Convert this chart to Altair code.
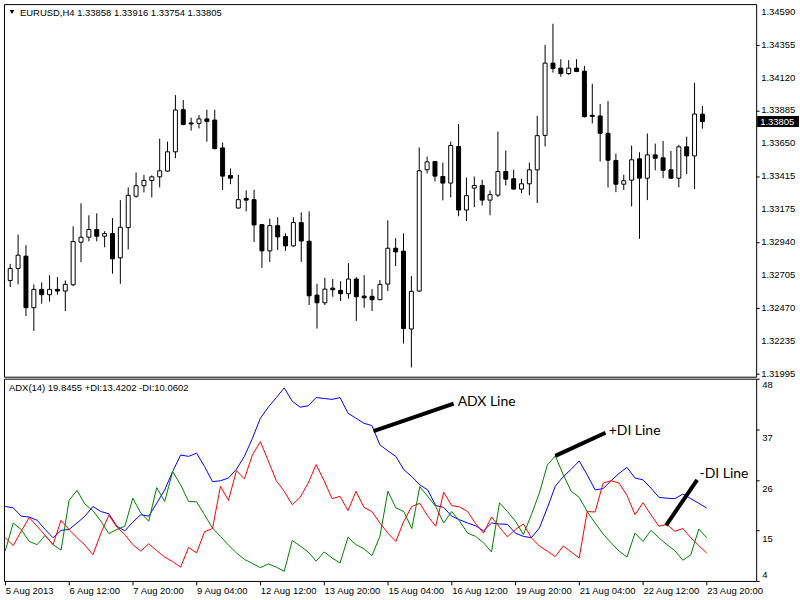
import altair as alt
import pandas as pd

# ---------------- data ----------------
opens = [1.32666,1.32752,1.32840,1.32471,1.32602,1.32564,1.32602,1.32590,1.32635,1.32940,
         1.32976,1.33031,1.32983,1.33002,1.32828,1.33045,1.33270,1.33345,1.33383,1.33409,
         1.33450,1.33588,1.33890,1.33795,1.33792,1.33824,1.33816,1.33616,1.33419,1.33185,
         1.33254,1.33245,1.33066,1.32878,1.33059,1.32981,1.32914,1.33081,1.32947,1.32561,
         1.32506,1.32611,1.32595,1.32571,1.32676,1.32554,1.32552,1.32528,1.32640,1.32897,
         1.32876,1.32318,1.32590,1.33460,1.33519,1.33411,1.33364,1.33626,1.33171,1.33328,
         1.33347,1.33242,1.33278,1.33447,1.33395,1.33321,1.33359,1.33459,1.33706,1.34224,
         1.34188,1.34149,1.34188,1.34166,1.33850,1.33845,1.33721,1.33526,1.33356,1.33385,
         1.33538,1.33399,1.33566,1.33545,1.33459,1.33399,1.33624,1.33559,1.33858]
highs = [1.32785,1.32995,1.32919,1.32638,1.32652,1.32704,1.32690,1.32666,1.33054,1.33219,
         1.33133,1.33147,1.33019,1.33114,1.33242,1.33333,1.33440,1.33424,1.33419,1.33683,
         1.33661,1.33995,1.33959,1.33833,1.33852,1.33890,1.33890,1.33654,1.33469,1.33424,
         1.33311,1.33316,1.33070,1.33109,1.33119,1.33004,1.33119,1.33154,1.33161,1.32642,
         1.32685,1.32676,1.32661,1.32790,1.32690,1.32704,1.32604,1.32669,1.33097,1.32969,
         1.33004,1.32697,1.33619,1.33554,1.33522,1.33511,1.33661,1.33788,1.33404,1.33411,
         1.33388,1.33311,1.33733,1.33597,1.33459,1.33395,1.33511,1.33847,1.34354,1.34506,
         1.34252,1.34245,1.34252,1.34204,1.34076,1.33931,1.33952,1.33576,1.33424,1.33633,
         1.33585,1.33719,1.33647,1.33666,1.33595,1.33638,1.33697,1.34083,1.33916]
lows = [1.32619,1.32638,1.32411,1.32304,1.32499,1.32514,1.32564,1.32447,1.32626,1.32797,
        1.32947,1.32947,1.32904,1.32714,1.32642,1.32888,1.33260,1.33297,1.33261,1.33333,
        1.33445,1.33542,1.33778,1.33740,1.33756,1.33661,1.33606,1.33314,1.33356,1.33181,
        1.33161,1.32942,1.32756,1.32799,1.32885,1.32878,1.32907,1.32799,1.32490,1.32321,
        1.32490,1.32549,1.32519,1.32535,1.32376,1.32471,1.32447,1.32525,1.32590,1.32769,
        1.32214,1.32042,1.32583,1.33433,1.33376,1.33240,1.33261,1.33126,1.33092,1.33192,
        1.33204,1.33133,1.33264,1.33347,1.33318,1.33292,1.33276,1.33221,1.33626,1.34156,
        1.34126,1.34140,1.34159,1.33835,1.33792,1.33519,1.33333,1.33299,1.33314,1.33197,
        1.32964,1.33242,1.33456,1.33399,1.33395,1.33333,1.33428,1.33321,1.33754]
closes = [1.32752,1.32847,1.32471,1.32602,1.32564,1.32602,1.32590,1.32638,1.32945,1.32976,
          1.33031,1.32983,1.33002,1.32821,1.33047,1.33276,1.33345,1.33383,1.33409,1.33452,
          1.33588,1.33888,1.33785,1.33788,1.33824,1.33806,1.33611,1.33414,1.33399,1.33245,
          1.33242,1.33064,1.32878,1.33059,1.32978,1.32914,1.33081,1.32949,1.32556,1.32506,
          1.32604,1.32599,1.32571,1.32676,1.32549,1.32542,1.32528,1.32638,1.32897,1.32871,
          1.32321,1.32588,1.33452,1.33516,1.33414,1.33364,1.33633,1.33171,1.33274,1.33347,
          1.33242,1.33281,1.33447,1.33392,1.33321,1.33359,1.33459,1.33704,1.34224,1.34185,
          1.34149,1.34188,1.34164,1.33840,1.33842,1.33721,1.33528,1.33356,1.33381,1.33531,
          1.33399,1.33566,1.33542,1.33456,1.33399,1.33624,1.33559,1.33859,1.33805]

adx = [20.2,19.9,18.1,17.9,17.2,15.2,13.4,15.0,15.2,16.6,18.1,20.2,19.1,18.6,15.9,14.9,16.8,18.4,18.1,20.9,
       23.8,27.8,31.4,31.1,31.8,28.9,25.6,25.8,26.4,28.3,31.1,35.0,39.4,41.8,43.9,46.0,43.1,41.8,42.1,43.9,
       43.7,43.5,43.9,40.5,39.4,38.3,37.8,33.6,32.3,31.1,28.2,26.7,24.9,23.8,20.4,20.0,18.1,17.3,16.6,16.0,
       14.9,16.6,16.4,16.3,14.4,13.7,13.4,15.5,19.9,24.6,26.7,28.3,30.1,27.1,23.8,24.1,25.8,27.4,28.7,26.4,
       26.0,24.2,22.2,22.0,21.9,22.9,21.9,20.9,19.85]
plus_di = [10.5,16.6,15.2,12.6,11.9,13.9,11.9,10.7,21.5,23.7,20.7,19.3,17.0,14.3,15.2,15.9,22.0,18.8,17.0,24.3,
           21.3,27.8,24.9,21.3,21.2,18.4,15.5,13.7,11.8,10.1,8.7,7.8,6.9,7.7,7.0,6.1,12.8,11.6,10.3,8.3,
           10.3,9.0,7.9,13.5,11.9,11.0,9.5,13.7,23.5,19.9,19.1,15.4,24.5,22.4,20.2,16.6,19.1,17.0,14.4,13.7,
           12.3,10.3,21.0,19.1,17.0,14.1,18.4,23.1,29.2,31.2,27.1,23.5,22.2,19.1,16.6,14.2,12.3,10.5,9.2,14.4,
           12.6,15.0,13.4,11.9,10.6,8.5,9.7,15.3,13.42]
minus_di = [13.4,11.7,14.8,17.8,15.9,13.9,11.9,17.2,15.2,13.4,11.8,9.7,14.4,18.3,15.7,14.1,11.9,10.5,12.1,10.6,
            9.2,8.2,7.0,11.3,10.1,14.7,15.4,24.6,21.5,28.0,26.2,31.4,34.3,30.1,25.8,23.5,20.6,22.2,25.3,29.3,
            25.8,21.9,22.4,19.3,23.5,20.0,19.1,16.6,14.4,12.6,17.0,20.2,20.9,18.1,15.9,23.3,20.4,20.1,19.1,16.5,
            14.4,17.9,15.7,13.6,15.2,16.4,13.4,11.6,10.5,9.3,11.6,10.3,9.0,19.1,19.0,25.3,25.8,25.3,22.6,18.4,
            21.0,18.4,15.9,16.3,14.8,15.4,13.4,11.7,10.06]

xlabel_pos = [0, 8, 16, 24, 32, 40, 48, 56, 64, 72, 80, 88]
xlabels = ["5 Aug 2013", "6 Aug 12:00", "7 Aug 20:00", "9 Aug 04:00", "12 Aug 12:00",
           "13 Aug 20:00", "15 Aug 04:00", "16 Aug 12:00", "19 Aug 20:00", "21 Aug 04:00",
           "22 Aug 12:00", "23 Aug 20:00"]
price_ticks = [1.34590, 1.34355, 1.34120, 1.33885, 1.33650, 1.33415, 1.33175,
               1.32940, 1.32705, 1.32470, 1.32235, 1.31995]
adx_ticks = [48, 37, 26, 15, 4]

ann_text = ["ADX Line", "+DI Line", "-DI Line"]
ann_x1 = [46.2, 69.0, 82.9]
ann_y1 = [36.6, 31.2, 16.1]
ann_x2 = [56.25, 75.3, 86.8]
ann_y2 = [42.6, 36.25, 26.0]
ann_tx = [56.75, 75.7, 87.1]
ann_ty = [42.85, 36.7, 27.25]

# ---------------- frames ----------------
n = len(opens)
df = pd.DataFrame({"i": list(range(n)), "open": opens, "high": highs, "low": lows, "close": closes})
df["dir"] = ["up" if c >= o else "down" for o, c in zip(opens, closes)]

ind = pd.DataFrame({"i": list(range(n)), "ADX": adx, "+DI": plus_di, "-DI": minus_di})
ind_long = ind.melt("i", var_name="series", value_name="v")

ann = pd.DataFrame({"t": ann_text, "x1": ann_x1, "y1": ann_y1, "x2": ann_x2, "y2": ann_y2,
                    "tx": ann_tx, "ty": ann_ty})
ylab = pd.DataFrame({"v": adx_ticks})
plab = pd.DataFrame({"p": price_ticks, "t": ["{:.5f}".format(p) for p in price_ticks]})

W = 755
H1 = 374
H2 = 203
FONT = "Liberation Sans"
FS = 9.5

xdom = [-0.16, 94.2]
xscale = alt.Scale(domain=xdom, nice=False, zero=False)
pscale = alt.Scale(domain=[1.31976, 1.34647], nice=False, zero=False)
iscale = alt.Scale(domain=[4, 48], nice=False, zero=False)

# ---------------- main price pane ----------------
base = alt.Chart(df)
wicks = base.mark_rule(color="black", strokeWidth=1).encode(
    x=alt.X("i:Q", scale=xscale, axis=None),
    y=alt.Y("low:Q", scale=pscale, title=None,
            axis=alt.Axis(orient="right", values=price_ticks, labels=False, grid=False,
                          domain=False, tickSize=3, tickColor="black")),
    y2="high:Q",
)
bodies = base.mark_bar(size=4, stroke="black", strokeWidth=1).encode(
    x=alt.X("i:Q", scale=xscale),
    y=alt.Y("open:Q", scale=pscale, title=None),
    y2="close:Q",
    fill=alt.Fill("dir:N", scale=alt.Scale(domain=["up", "down"], range=["white", "black"]), legend=None),
)
price_labels = alt.Chart(plab).mark_text(
    align="left", baseline="middle", font=FONT, fontSize=FS, color="black"
).encode(x=alt.value(W + 5), y=alt.Y("p:Q", scale=pscale, title=None), text="t:N")

last = df.iloc[-1]
header = "EURUSD,H4  {:.5f} {:.5f} {:.5f} {:.5f}".format(last["open"], last["high"], last["low"], last["close"])
header_txt = alt.Chart(pd.DataFrame({"t": [header]})).mark_text(
    align="left", baseline="middle", font=FONT, fontSize=FS, color="black"
).encode(x=alt.value(16), y=alt.value(9), text="t:N")
tri = alt.Chart(pd.DataFrame({"t": [1]})).mark_point(
    shape="triangle-down", filled=True, color="black", size=22, opacity=1
).encode(x=alt.value(8), y=alt.value(8))

cur = pd.DataFrame({"p": [last["close"]], "t": ["{:.5f}".format(last["close"])]})
cur_box = alt.Chart(cur).mark_tick(orient="horizontal", size=42, thickness=11, color="black", opacity=1).encode(
    x=alt.value(W + 22), y=alt.Y("p:Q", scale=pscale, title=None))
cur_txt = alt.Chart(cur).mark_text(align="left", baseline="middle", font=FONT, fontSize=FS, color="white").encode(
    x=alt.value(W + 4), y=alt.Y("p:Q", scale=pscale, title=None), text="t:N")

main = alt.layer(wicks, bodies, price_labels, header_txt, tri, cur_box, cur_txt).properties(width=W, height=H1)

# ---------------- ADX pane ----------------
lines = alt.Chart(ind_long).mark_line(strokeWidth=1).encode(
    x=alt.X("i:Q", scale=xscale, title=None,
            axis=alt.Axis(values=xlabel_pos,
                          labelExpr="[" + ",".join("'" + s + "'" for s in xlabels) + "][round(datum.value/8)]",
                          labelAlign="left", labelBaseline="top", labelPadding=1, tickSize=4,
                          tickColor="black", domain=False, grid=False, labelOverlap=False,
                          labelFlush=False, labelFont=FONT, labelFontSize=FS, labelColor="black")),
    y=alt.Y("v:Q", scale=iscale, title=None,
            axis=alt.Axis(orient="right", values=adx_ticks, labels=False, tickSize=3,
                          tickColor="black", domain=False, grid=False)),
    color=alt.Color("series:N", scale=alt.Scale(domain=["ADX", "+DI", "-DI"],
                                                range=["#0000ff", "#008000", "#ff0000"]), legend=None),
    detail="series:N",
)
ylab_base = alt.Chart(ylab)
def ylab_layer(test, dy):
    return ylab_base.transform_filter(test).mark_text(
        align="left", baseline="middle", font=FONT, fontSize=FS, color="black", dy=dy
    ).encode(x=alt.value(W + 6), y=alt.Y("v:Q", scale=iscale, title=None), text=alt.Text("v:Q", format="d"))

ylab_top = ylab_layer("datum.v == 48", 6)
ylab_mid = ylab_layer("datum.v > 4 && datum.v < 48", 9)
ylab_bot = ylab_layer("datum.v == 4", -6)

ind_title = "ADX(14) {:.4f} +DI:{:.4f} -DI:{:.4f}".format(19.8455, 13.4202, 10.0602)
ind_txt = alt.Chart(pd.DataFrame({"t": [ind_title]})).mark_text(
    align="left", baseline="middle", font=FONT, fontSize=FS, color="black"
).encode(x=alt.value(5), y=alt.value(9), text="t:N")

ann_lines = alt.Chart(ann).mark_rule(color="black", strokeWidth=4, strokeCap="butt").encode(
    x=alt.X("x1:Q", scale=xscale, title=None), x2="x2:Q", y=alt.Y("y1:Q", scale=iscale, title=None), y2="y2:Q")
ann_txt = alt.Chart(ann).mark_text(align="left", baseline="middle", font="Lato", fontSize=14, color="black").encode(
    x=alt.X("tx:Q", scale=xscale, title=None), y=alt.Y("ty:Q", scale=iscale, title=None), text="t:N")

adx_pane = alt.layer(lines, ylab_top, ylab_mid, ylab_bot, ind_txt, ann_lines, ann_txt).properties(width=W, height=H2)

chart = alt.vconcat(main, adx_pane, spacing=2, bounds="flush").properties(
    padding={"left": 2, "top": 2, "right": 0, "bottom": 0},
    background="white",
).configure_view(stroke="black", strokeWidth=1)

chart.save("out.html", embed_options={"renderer": "svg", "actions": False})
